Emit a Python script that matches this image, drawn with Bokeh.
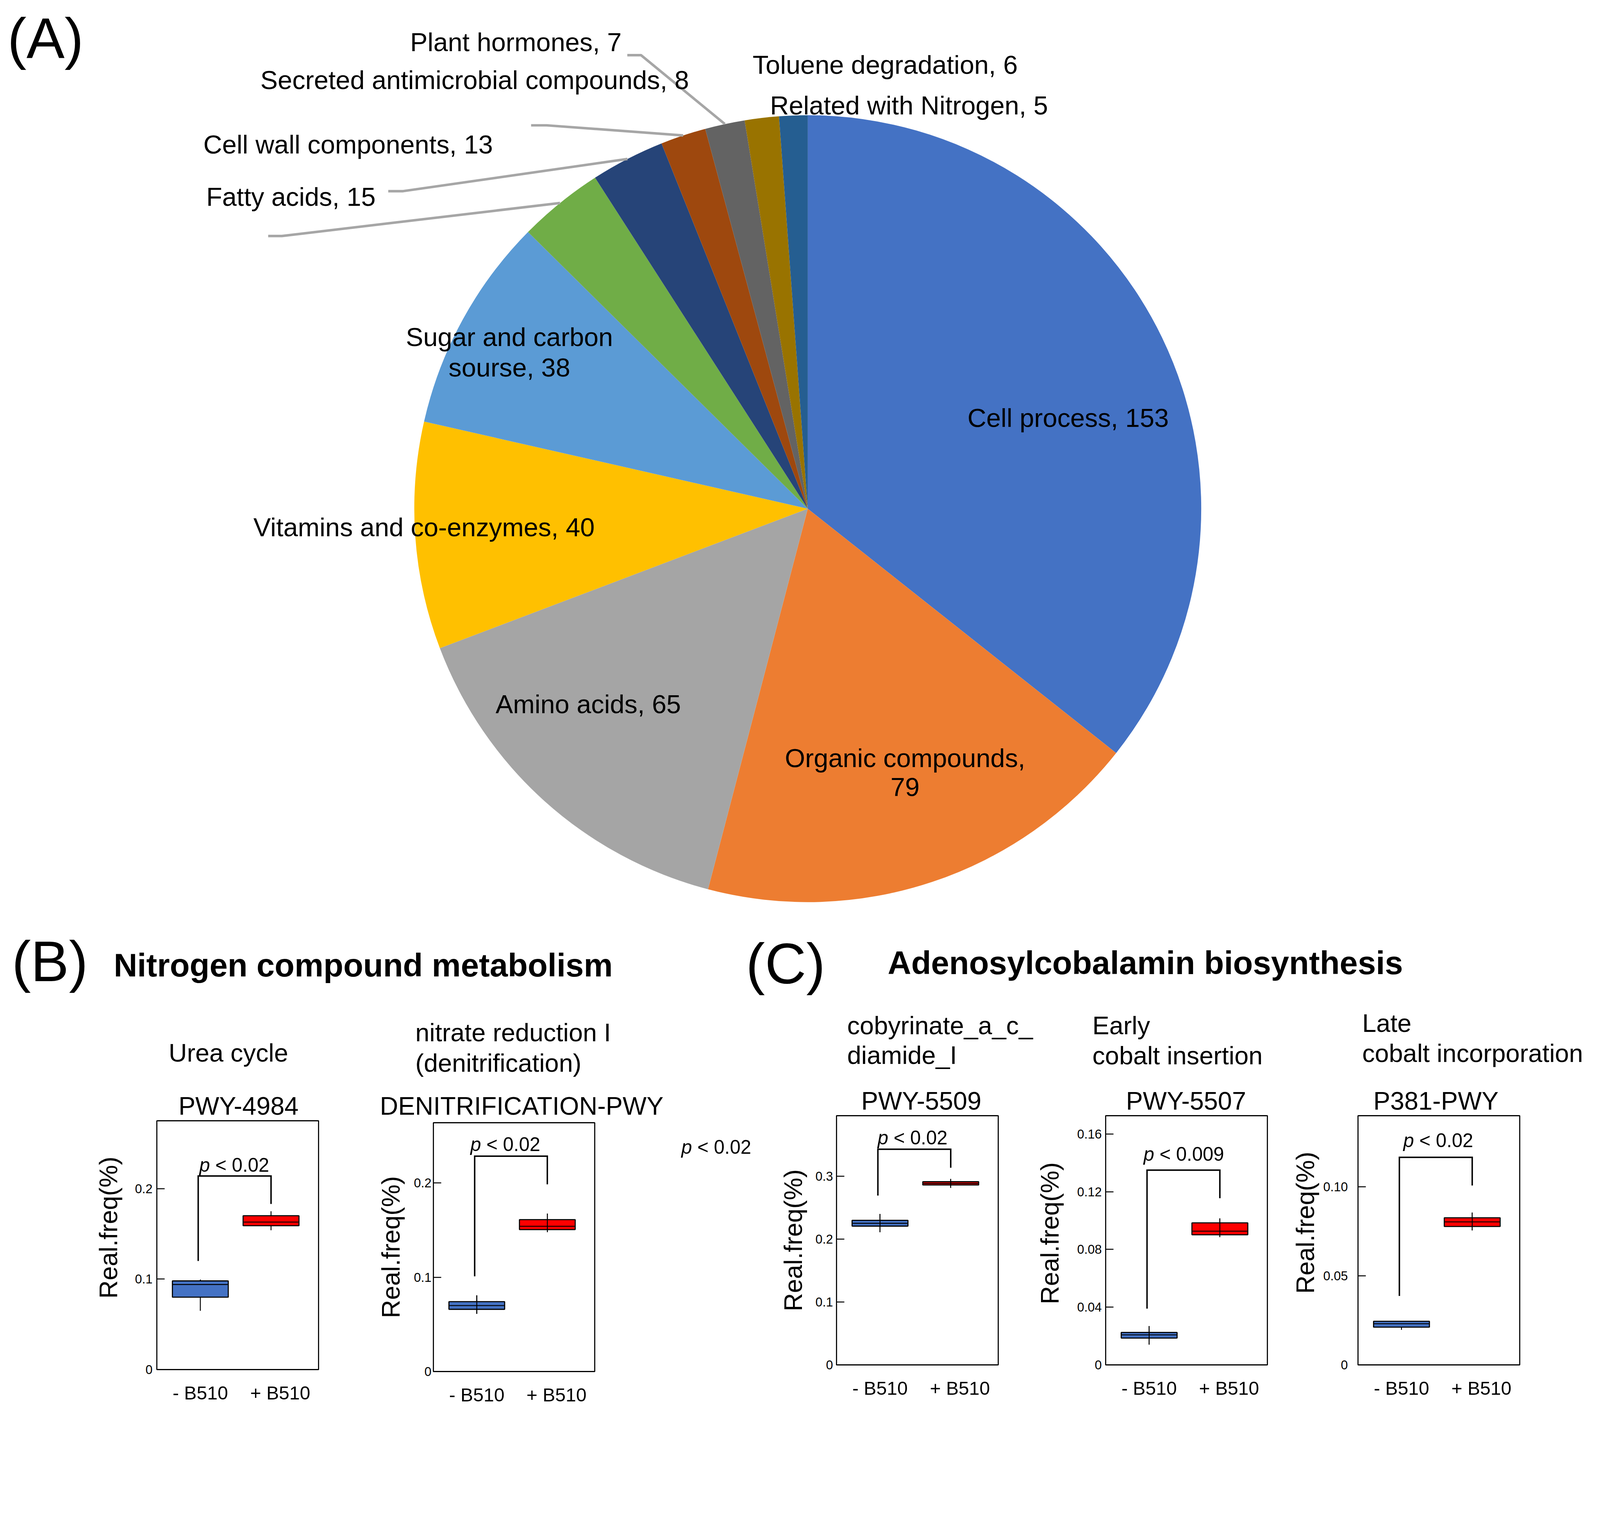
import math
from bokeh.plotting import figure
from bokeh.layouts import column, row
from bokeh.models import Range1d, FixedTicker, ColumnDataSource, CustomJSTickFormatter
from bokeh.core.properties import value
from bokeh.embed import file_html
from bokeh.resources import INLINE

FONT = "Liberation Sans"

# ---------------- data: pie (A) ----------------
pie_names = ["Cell process", "Organic compounds", "Amino acids", "Vitamins and co-enzymes",
             "Sugar and carbon sourse", "Fatty acids", "Cell wall components",
             "Secreted antimicrobial compounds", "Plant hormones", "Toluene degradation",
             "Related with Nitrogen"]
pie_values = [153, 79, 65, 40, 38, 15, 13, 8, 7, 6, 5]
pie_colors = ["#4472C4", "#ED7D31", "#A5A5A5", "#FFC000", "#5B9BD5", "#70AD47",
              "#264478", "#9E480E", "#636363", "#997300", "#255E91"]
pie_wrap = {"Sugar and carbon sourse": ("Sugar and carbon", "sourse"),
            "Organic compounds": ("Organic compounds", "")}

# ---------------- data: box plots (B, C) ----------------
groups = ["- B510", "+ B510"]
panel_codes = ["PWY-4984", "DENITRIFICATION-PWY", "PWY-5509", "PWY-5507", "P381-PWY"]
panel_names = ["Urea cycle", "nitrate reduction I\n(denitrification)", "cobyrinate_a_c_\ndiamide_I",
               "Early\ncobalt insertion", "Late\ncobalt incorporation"]
panel_ymax = [0.275, 0.264, 0.396, 0.1727, 0.1399]
panel_yticks = [[0, 0.1, 0.2], [0, 0.1, 0.2], [0, 0.1, 0.2, 0.3], [0, 0.04, 0.08, 0.12, 0.16], [0, 0.05, 0.10]]
panel_yticklabels = [["0", "0.1", "0.2"], ["0", "0.1", "0.2"], ["0", "0.1", "0.2", "0.3"],
                     ["0", "0.04", "0.08", "0.12", "0.16"], ["0", "0.05", "0.10"]]
# per panel: [- B510, + B510]
lower_whisker = [[0.065, 0.154], [0.0612, 0.148], [0.2109, 0.2814], [0.0141, 0.0886], [0.0197, 0.0755]]
q1 = [[0.080, 0.159], [0.066, 0.1506], [0.2205, 0.2859], [0.0186, 0.0902], [0.0212, 0.0777]]
median = [[0.094, 0.163], [0.070, 0.1541], [0.225, 0.2883], [0.0208, 0.0927], [0.0231, 0.0803]]
q3 = [[0.098, 0.170], [0.0741, 0.1612], [0.2298, 0.2911], [0.0225, 0.0984], [0.0245, 0.0826]]
upper_whisker = [[0.0995, 0.175], [0.0808, 0.1676], [0.2399, 0.2955], [0.0269, 0.1015], [0.0245, 0.0855]]
p_values = ["< 0.02", "< 0.02", "< 0.02", "< 0.009", "< 0.02"]
bracket_left_y = [0.12, 0.101, 0.269, 0.039, 0.0387]
bracket_top_y = [0.214, 0.2285, 0.3427, 0.135, 0.1165]
bracket_right_y = [0.183, 0.1986, 0.3133, 0.1155, 0.1007]
p_label_y = [0.226, 0.241, 0.361, 0.146, 0.126]
stray_p_value = "< 0.02"
y_label = "Real.freq(%)"

# ---------------- layout / style constants (reference pixel space) ----------------
S = 1 / 1.08            # reference px -> page px
OX = 8                  # page margin


def E(v):               # reference coordinate -> page px offset from content origin
    return int(round((v - OX) * S))


def fs(v):
    return f"{v * S:.1f}px"


BOX_BLUE, BOX_RED = "#4472C4", "#FF0000"
LEADER = "#A6A6A6"
RIGHT = 4430
CANVAS_BOTTOM = 2790
ROW_BOT = 3898
SPLIT_X = 2110                       # boundary between group (B) and group (C)
HEAD_BOTTOM = {"B": 3105, "C": 3091}

PIE_CX, PIE_CY, PIE_R = 2241, 1414, 1088
pie_label_pos = [(2961, 1163), (2510, 2104), (1634, 1955), (1180, 1465), (1416, 940), (812, 552),
                 (970, 407), (1320, 229), (1434, 124), (2455, 187), (2521, 299)]
pie_line_step = [0, 80, 0, 0, 84, 0, 0, 0, 0, 0, 0]
leaders = {5: [(749, 660), (787, 660)], 6: [(1081, 536), (1122, 536)],
           7: [(1476, 354), (1519, 354)], 8: [(1742, 160), (1780, 160)]}

sub_pos = [(639, 2918, "center", 0), (1156, 2862, "left", 84), (2350, 2843, "left", 82),
           (3028, 2843, "left", 83), (3774, 2836, "left", 83)]
title_pos = [(667, 3065), (1450, 3065), (2555, 3051), (3287, 3051), (3978, 3051)]
p_label_x = [1.48, 1.405, 1.46, 1.49, 1.52]
bracket_x = [0.97, 2.0]
BOX_X = [1, 2]
XTICK_SHIFT = [0.0, 0.13]
BOX_W = 0.79
ylabel_lift = [5, 0, 0, 2, 5]        # nbsp padding that lifts the axis label along the axis

fig_l = [8, 900, 2110, 2790, 3560]
fig_r = [900, 1670, 2790, 3560, 4430]
frame_l = [441, 1206, 2320, 3064, 3762]
frame_r = [888, 1652, 2767, 3511, 4209]
frame_t = [3107, 3112, 3093, 3093, 3093]
frame_b = [3795, 3800, 3782, 3782, 3782]
tick_standoff = [12, 5, 10, 11, 28]
label_standoff = [30, 20, 18, 32, 6]
BLANK_L, BLANK_R = 1670, 2110
STRAY_POS = (1988, 3179)

ARIAL = {'p': .556, ' ': .278, '<': .584, '0': .556, '.': .278, '2': .556, '9': .556}


def em(s):
    return sum(ARIAL.get(c, 0.556) for c in s)


def blank_fig(x0, x1, y0, y1):
    f = figure(width=E(x1) - E(x0), height=E(y1) - E(y0), x_range=Range1d(x0, x1),
               y_range=Range1d(-y1, -y0), x_axis_type=None, y_axis_type=None, min_border=0,
               toolbar_location=None, tools="", output_backend="svg")
    f.outline_line_color = None
    f.background_fill_color = "white"
    f.border_fill_color = "white"
    return f


def ftext(f, s, x, y, size, align="left", style="normal"):
    f.text(x=[x], y=[-y], text=[s], text_font=value(FONT), text_font_size=value(fs(size)),
           text_align=align, text_baseline="middle", text_font_style=style, text_color="black")


def p_label(f, x, y, rest, size=53):
    sz = size * S
    start = -em("p " + rest) * sz / 2
    f.text(x=[x], y=[y], text=["p"], x_offset=start, text_font=value(FONT),
           text_font_size=value(f"{sz:.1f}px"), text_font_style="italic",
           text_align="left", text_baseline="middle", text_color="black")
    f.text(x=[x], y=[y], text=[rest], x_offset=start + em("p ") * sz, text_font=value(FONT),
           text_font_size=value(f"{sz:.1f}px"), text_align="left", text_baseline="middle",
           text_color="black")


# ---------------- top canvas (A + headings) ----------------
canvas = blank_fig(OX, RIGHT, OX, CANVAS_BOTTOM)

total = sum(pie_values)
cum = [0]
for v in pie_values:
    cum.append(cum[-1] + v)
k = 2 * math.pi / total
pie_src = ColumnDataSource(dict(
    start=[math.pi / 2 - k * cum[i + 1] for i in range(len(pie_values))],
    end=[math.pi / 2 - k * cum[i] for i in range(len(pie_values))],
    color=pie_colors))
canvas.wedge(x=PIE_CX, y=-PIE_CY, radius=PIE_R, start_angle="start", end_angle="end",
             fill_color="color", line_color=None, source=pie_src)

xs, ys = [], []
for i, pts in leaders.items():
    a = math.pi / 2 - k * (cum[i] + pie_values[i] / 2)
    rx, ry = PIE_CX + PIE_R * math.cos(a), -PIE_CY + PIE_R * math.sin(a)
    xs.append([pts[0][0], pts[1][0], rx])
    ys.append([-pts[0][1], -pts[1][1], ry])
canvas.multi_line(xs=xs, ys=ys, line_color=LEADER, line_width=7 * S)

for i, (name, v) in enumerate(zip(pie_names, pie_values)):
    if name in pie_wrap:
        a, b = pie_wrap[name]
        lines = [a, f"{b}, {v}"] if b else [a + ",", f"{v}"]
    else:
        lines = [f"{name}, {v}"]
    x, y = pie_label_pos[i]
    for j, line in enumerate(lines):
        ftext(canvas, line, x, y + j * pie_line_step[i], 72, "center")

ftext(canvas, "(A)", 28, 114, 158)
ftext(canvas, "(B)", 40, 2666, 158)
ftext(canvas, "(C)", 2070, 2672, 158)
ftext(canvas, "Nitrogen compound metabolism", 322, 2677, 90, style="bold")
ftext(canvas, "Adenosylcobalamin biosynthesis", 2462, 2670, 90, style="bold")


# ---------------- panel headers ----------------
def header(x0, x1, bottom, idx):
    f = blank_fig(x0, x1, CANVAS_BOTTOM, bottom)
    for i in idx:
        x, y, al, step = sub_pos[i]
        for j, line in enumerate(panel_names[i].split("\n")):
            ftext(f, line, x, y + j * step, 70, al)
        tx, ty = title_pos[i]
        ftext(f, panel_codes[i], tx, ty, 70, "center")
    return f


# ---------------- box plot panels ----------------
FMT = "const i = tv.findIndex(t => Math.abs(t - tick) < 1e-9); return i >= 0 ? tl[i] : '';"
WHISK_THROUGH = [[False, False], [True, True], [True, True], [True, True], [False, True]]


def box_panel(i, top):
    p = figure(frame_width=E(frame_r[i]) - E(frame_l[i]), frame_height=E(frame_b[i]) - E(frame_t[i]),
               min_border_left=E(frame_l[i]) - E(fig_l[i]), min_border_right=E(fig_r[i]) - E(frame_r[i]),
               min_border_top=E(frame_t[i]) - E(top), min_border_bottom=E(ROW_BOT) - E(frame_b[i]),
               x_range=Range1d(0.385, 2.672), y_range=Range1d(0, panel_ymax[i]),
               toolbar_location=None, tools="", output_backend="svg")
    p.background_fill_color = "white"
    p.border_fill_color = "white"
    p.outline_line_color = "black"
    p.outline_line_width = 3 * S
    p.grid.visible = False

    ya = p.yaxis[0]
    ya.ticker = FixedTicker(ticks=panel_yticks[i])
    ya.formatter = CustomJSTickFormatter(args=dict(tv=panel_yticks[i], tl=panel_yticklabels[i]), code=FMT)
    ya.axis_line_color = None
    ya.major_tick_in = int(round(22 * S))
    ya.major_tick_out = 0
    ya.major_tick_line_width = 2.5 * S
    ya.major_tick_line_color = "black"
    ya.minor_tick_line_color = None
    ya.major_label_text_font = FONT
    ya.major_label_text_font_size = fs(35)
    ya.major_label_text_color = "black"
    ya.major_label_standoff = int(round(tick_standoff[i] * S))
    ya.axis_label = "\u00a0" * ylabel_lift[i] + y_label
    ya.axis_label_text_font = FONT
    ya.axis_label_text_font_size = fs(70)
    ya.axis_label_text_font_style = "normal"
    ya.axis_label_text_color = "black"
    ya.axis_label_standoff = int(round(label_standoff[i] * S))

    xt = [b + s for b, s in zip(BOX_X, XTICK_SHIFT)]
    xa = p.xaxis[0]
    xa.ticker = FixedTicker(ticks=xt)
    xa.formatter = CustomJSTickFormatter(args=dict(tv=xt, tl=groups), code=FMT)
    xa.axis_line_color = None
    xa.major_tick_line_color = None
    xa.minor_tick_line_color = None
    xa.major_label_text_font = FONT
    xa.major_label_text_font_size = fs(52)
    xa.major_label_text_color = "black"
    xa.major_label_standoff = int(round(28 * S))

    src = ColumnDataSource(dict(x=BOX_X, lw=lower_whisker[i], q1=q1[i], med=median[i], q3=q3[i],
                                uw=upper_whisker[i], color=[BOX_BLUE, BOX_RED],
                                x0=[b - BOX_W / 2 for b in BOX_X], x1=[b + BOX_W / 2 for b in BOX_X]))
    p.segment(x0="x", x1="x", y0="lw", y1="uw", line_color="black", line_width=2.5 * S, source=src)
    p.vbar(x="x", width=BOX_W, bottom="q1", top="q3", fill_color="color", line_color="black",
           line_width=3 * S, source=src)
    p.segment(x0="x0", x1="x1", y0="med", y1="med", line_color="black", line_width=2.5 * S, source=src)
    thr = [j for j in range(2) if WHISK_THROUGH[i][j]]
    if thr:
        p.segment(x0=[BOX_X[j] for j in thr], x1=[BOX_X[j] for j in thr],
                  y0=[lower_whisker[i][j] for j in thr], y1=[upper_whisker[i][j] for j in thr],
                  line_color="black", line_width=2.5 * S)

    p.line(x=[bracket_x[0], bracket_x[0], bracket_x[1], bracket_x[1]],
           y=[bracket_left_y[i], bracket_top_y[i], bracket_top_y[i], bracket_right_y[i]],
           line_color="black", line_width=4 * S, line_join="miter")
    p_label(p, p_label_x[i], p_label_y[i], p_values[i])
    return p


# group (B): urea cycle + denitrification + free-standing p label
hb = HEAD_BOTTOM["B"]
head_b = header(OX, SPLIT_X, hb, [0, 1])
blank = blank_fig(BLANK_L, BLANK_R, hb, ROW_BOT)
p_label(blank, STRAY_POS[0], -STRAY_POS[1], stray_p_value)
group_b = column(column(head_b),
                 row(column(box_panel(0, hb)), column(box_panel(1, hb)), column(blank)))

# group (C): adenosylcobalamin panels
hc = HEAD_BOTTOM["C"]
head_c = header(SPLIT_X, RIGHT, hc, [2, 3, 4])
group_c = column(column(head_c),
                 row(column(box_panel(2, hc)), column(box_panel(3, hc)), column(box_panel(4, hc))))

layout = column(canvas, row(group_b, group_c))
open("out.html", "w").write(file_html(layout, INLINE))
